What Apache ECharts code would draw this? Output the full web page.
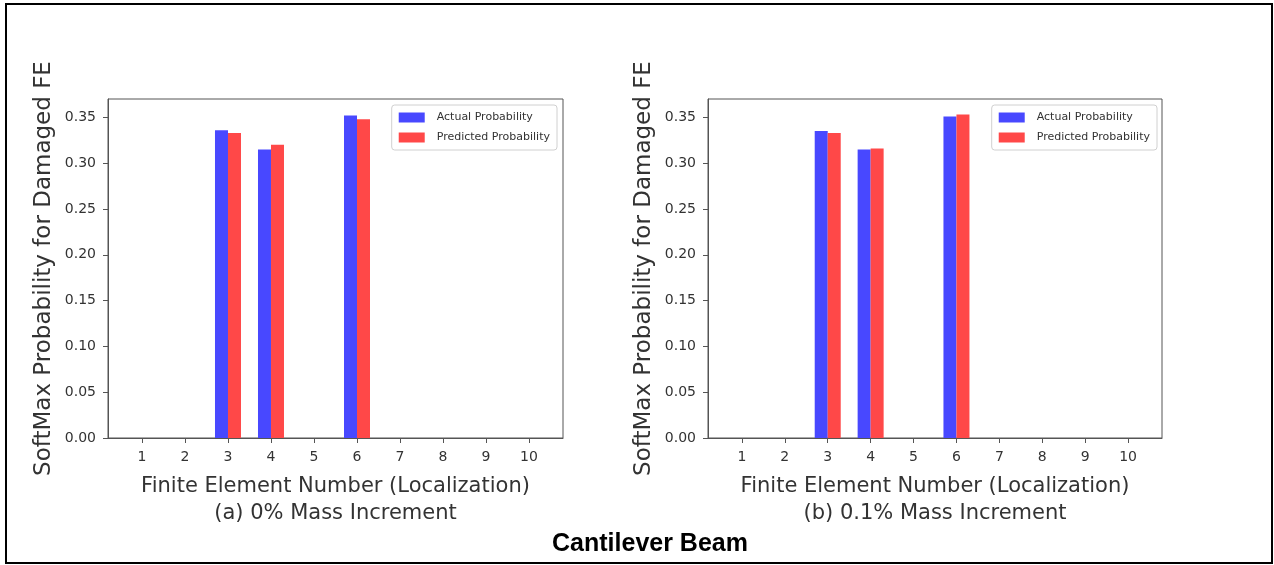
<!DOCTYPE html>
<html>
<head>
<meta charset="utf-8">
<script src="https://cdn.jsdelivr.net/npm/echarts@6/dist/echarts.min.js"></script>
<style>
  html, body { margin: 0; padding: 0; background: #fff; }
  #chart { width: 1274px; height: 565px; }
</style>
</head>
<body>
<div id="chart"></div>
<script>
// Finite element numbers along the cantilever beam
const elements = [1, 2, 3, 4, 5, 6, 7, 8, 9, 10];

// (a) 0% mass increment
const actualA    = [0, 0, 0.336, 0.315, 0, 0.352, 0, 0, 0, 0];
const predictedA = [0, 0, 0.333, 0.320, 0, 0.348, 0, 0, 0, 0];

// (b) 0.1% mass increment
const actualB    = [0, 0, 0.335, 0.315, 0, 0.351, 0, 0, 0, 0];
const predictedB = [0, 0, 0.333, 0.316, 0, 0.353, 0, 0, 0, 0];

const yTicks = [0, 0.05, 0.10, 0.15, 0.20, 0.25, 0.30, 0.35];

const seriesNames = ['Actual Probability', 'Predicted Probability'];
const captions = ['(a) 0% Mass Increment', '(b) 0.1% Mass Increment'];
const xTitle = 'Finite Element Number (Localization)';
const yTitle = 'SoftMax Probability for Damaged FE';
const mainTitle = 'Cantilever Beam';

const BLUE = '#4848ff';
const RED = '#ff4848';
const FONT = 'DejaVu Sans';
const FRAME = '#555';

const chart = echarts.init(document.getElementById('chart'));

const grids = [
  { left: 108, top: 99, width: 455, height: 339 },
  { left: 708, top: 99, width: 454, height: 339 }
];

function xAxisFor(i) {
  return {
    type: 'value', gridIndex: i, min: 0.21, max: 10.79,
    name: xTitle + '\n' + captions[i],
    nameLocation: 'middle', nameGap: 35,
    nameTextStyle: { fontFamily: FONT, fontSize: 21, color: '#333', lineHeight: 27 },
    axisLine: { show: true, lineStyle: { color: FRAME, width: 1 } },
    axisTick: { show: true, length: 5, customValues: elements, lineStyle: { color: FRAME } },
    axisLabel: { customValues: elements, margin: 12, fontFamily: FONT, fontSize: 14, color: '#333' },
    splitLine: { show: false }
  };
}

function yAxisFor(i) {
  return {
    type: 'value', gridIndex: i, min: 0, max: 0.37,
    name: yTitle, nameLocation: 'middle', nameGap: 52,
    nameTextStyle: { fontFamily: FONT, fontSize: 23, color: '#333' },
    axisLine: { show: true, lineStyle: { color: FRAME, width: 1 } },
    axisTick: { show: true, length: 5, customValues: yTicks, lineStyle: { color: FRAME } },
    axisLabel: {
      customValues: yTicks, margin: 12, fontFamily: FONT, fontSize: 14, color: '#333',
      formatter: v => v.toFixed(2)
    },
    splitLine: { show: false }
  };
}

function legendFor(rightEdge) {
  return {
    data: seriesNames,
    orient: 'vertical',
    right: rightEdge, top: 105,
    icon: 'rect', itemWidth: 26, itemHeight: 10, itemGap: 9,
    padding: [7, 7],
    backgroundColor: '#fff',
    borderColor: '#d0d0d0', borderWidth: 1, borderRadius: 3,
    textStyle: { fontFamily: FONT, fontSize: 11, color: '#333', padding: [0, 0, 0, 7] }
  };
}

function barSeries(name, values, gi, color) {
  return {
    type: 'bar', name: name, xAxisIndex: gi, yAxisIndex: gi,
    data: elements.map((e, k) => [e, values[k]]),
    barWidth: 13, barGap: '0%',
    itemStyle: { color: color },
    emphasis: { disabled: true }
  };
}

chart.setOption({
  animation: false,
  backgroundColor: '#fff',
  grid: grids.map(g => Object.assign({ show: true, borderColor: FRAME, borderWidth: 1, backgroundColor: '#fff' }, g)),
  xAxis: [xAxisFor(0), xAxisFor(1)],
  yAxis: [yAxisFor(0), yAxisFor(1)],
  legend: [legendFor(1274 - 557), legendFor(1274 - 1157)],
  series: [
    barSeries(seriesNames[0], actualA, 0, BLUE),
    barSeries(seriesNames[1], predictedA, 0, RED),
    barSeries(seriesNames[0], actualB, 1, BLUE),
    barSeries(seriesNames[1], predictedB, 1, RED)
  ],
  graphic: [
    {
      type: 'rect', silent: true,
      shape: { x: 6, y: 4, width: 1266, height: 559 },
      style: { fill: null, stroke: '#000', lineWidth: 2 }
    },
    {
      type: 'text', x: 650, y: 544, silent: true,
      style: {
        text: mainTitle, fill: '#000',
        align: 'center', verticalAlign: 'middle',
        font: 'bold 25px "Liberation Sans", Arial, sans-serif'
      }
    }
  ]
});
</script>
</body>
</html>
